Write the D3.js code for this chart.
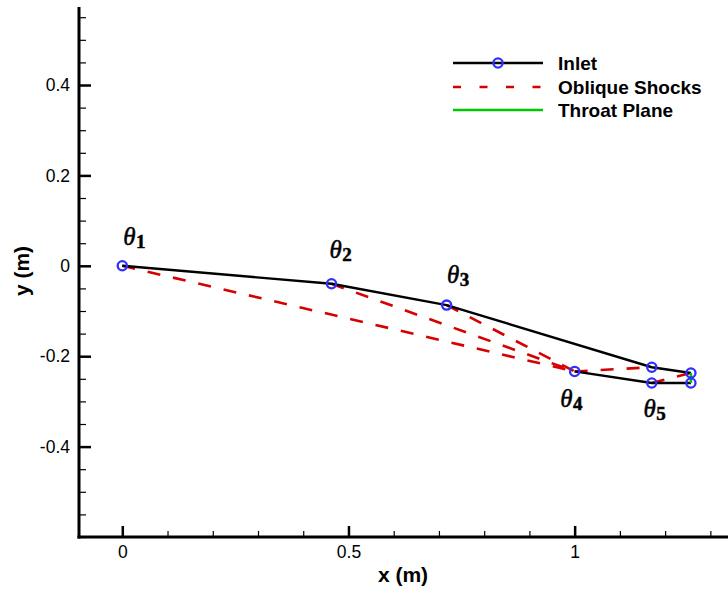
<!DOCTYPE html>
<html>
<head>
<meta charset="utf-8">
<script src="https://cdn.jsdelivr.net/npm/d3@7"></script>
<style>
  html, body { margin: 0; padding: 0; background: #fff; }
  svg { display: block; }
</style>
</head>
<body>
<script>
// ---- data ----
const upperX = [0, 0.4625, 0.717, 1.1705, 1.257];
const upperY = [0, -0.0398, -0.0869, -0.2244, -0.2372];
const cowlX = [1.0, 1.1705, 1.257];
const cowlY = [-0.2337, -0.2593, -0.2593];
const shockX1 = [0, 0.4625, 0.717, 1.0, 1.1705];
const shockY1 = [0, -0.0398, -0.0869, -0.2337, -0.2593];
const shockX2 = [1.0, 1.0, 1.0, 1.1705, 1.257];
const shockY2 = [-0.2337, -0.2337, -0.2337, -0.2244, -0.2372];
const throatX = [1.257, 1.257];
const throatY = [-0.2372, -0.2593];
const labelText = ["1", "2", "3", "4", "5"];
const labelX = [0.002, 0.458, 0.718, 0.968, 1.152];
const labelY = [0.047, 0.018, -0.038, -0.312, -0.334];
const yTicks = [-0.4, -0.2, 0, 0.2, 0.4];
const xTicks = [0, 0.5, 1];
const seriesNames = ["Inlet", "Oblique Shocks", "Throat Plane"];

// ---- layout ----
const W = 728, H = 590;
const plot = { left: 79, right: 728, top: 7, bottom: 537 };
const x = d3.scaleLinear().domain([-0.0957, 1.339]).range([plot.left, plot.right]);
const y = d3.scaleLinear().domain([-0.6, 0.5726]).range([plot.bottom, plot.top]);

const BLUE = "#2f2fff", RED = "#d60000", GREEN = "#00c800";
const fmt = d => String(+d.toFixed(2));

const svg = d3.select("body").append("svg").attr("width", W).attr("height", H)
  .style("font-family", "'Liberation Sans', Arial, sans-serif");

// axes
const yMinor = d3.range(-0.6, 0.5501, 0.05).map(v => +v.toFixed(2)).filter(v => !yTicks.includes(v));
const xMinor = d3.range(0, 1.3001, 0.1).map(v => +v.toFixed(2)).filter(v => !xTicks.includes(v));

const yAxis = d3.axisRight(y).tickValues(yTicks).tickSize(12).tickFormat(fmt);
const gy = svg.append("g").attr("transform", `translate(${plot.left},0)`).call(yAxis);
gy.select(".domain").remove();
gy.selectAll(".tick line").attr("stroke", "#000").attr("stroke-width", 2.5);
gy.selectAll(".tick text").attr("x", -9).attr("text-anchor", "end").attr("font-size", 17.5).attr("fill", "#000");
const gyMinor = svg.append("g").attr("transform", `translate(${plot.left},0)`)
  .call(d3.axisRight(y).tickValues(yMinor).tickSize(7).tickFormat(""));
gyMinor.select(".domain").remove();
gyMinor.selectAll(".tick line").attr("stroke", "#000").attr("stroke-width", 1.2);

const xAxis = d3.axisTop(x).tickValues(xTicks).tickSize(11).tickFormat(fmt);
const gx = svg.append("g").attr("transform", `translate(0,${plot.bottom})`).call(xAxis);
gx.select(".domain").remove();
gx.selectAll(".tick line").attr("stroke", "#000").attr("stroke-width", 2.5);
gx.selectAll(".tick text").attr("y", 21).attr("dy", 0).attr("font-size", 17.5).attr("fill", "#000");
const gxMinor = svg.append("g").attr("transform", `translate(0,${plot.bottom})`)
  .call(d3.axisTop(x).tickValues(xMinor).tickSize(6).tickFormat(""));
gxMinor.select(".domain").remove();
gxMinor.selectAll(".tick line").attr("stroke", "#000").attr("stroke-width", 1.2);

svg.append("line").attr("x1", plot.left).attr("x2", plot.left).attr("y1", plot.top).attr("y2", plot.bottom + 1.5)
  .attr("stroke", "#000").attr("stroke-width", 3);
svg.append("line").attr("x1", plot.left - 1.5).attr("x2", plot.right).attr("y1", plot.bottom).attr("y2", plot.bottom)
  .attr("stroke", "#000").attr("stroke-width", 3);

// axis titles
svg.append("text").attr("x", 403).attr("y", 582).attr("text-anchor", "middle")
  .attr("font-size", 21).attr("font-weight", "bold").text("x (m)");
svg.append("text").attr("transform", "translate(29,271) rotate(-90)").attr("text-anchor", "middle")
  .attr("font-size", 21).attr("font-weight", "bold").text("y (m)");

const line = d3.line().x(d => x(d[0])).y(d => y(d[1]));

// shocks
const shocks = shockX1.map((v, i) => [[shockX1[i], shockY1[i]], [shockX2[i], shockY2[i]]]);
svg.append("g").selectAll("path").data(shocks).join("path")
  .attr("d", line).attr("fill", "none").attr("stroke", RED).attr("stroke-width", 2.6)
  .attr("stroke-dasharray", "13,13");

// inlet
const upper = upperX.map((v, i) => [v, upperY[i]]);
const cowl = cowlX.map((v, i) => [v, cowlY[i]]);
[upper, cowl].forEach(pts => {
  svg.append("path").attr("d", line(pts)).attr("fill", "none").attr("stroke", "#000").attr("stroke-width", 2.4)
    .attr("stroke-linejoin", "round");
});

// throat
svg.append("path").attr("d", line(throatX.map((v, i) => [v, throatY[i]])))
  .attr("fill", "none").attr("stroke", GREEN).attr("stroke-width", 2.6);

// markers
svg.append("g").selectAll("circle").data(upper.concat(cowl)).join("circle")
  .attr("cx", d => x(d[0])).attr("cy", d => y(d[1])).attr("r", 4.6)
  .attr("fill", "none").attr("stroke", BLUE).attr("stroke-width", 2.3);

// theta labels
const lab = svg.append("g").selectAll("text").data(labelText).join("text")
  .attr("x", (d, i) => x(labelX[i])).attr("y", (d, i) => y(labelY[i]))
  .attr("font-family", "'Liberation Serif', 'DejaVu Serif', serif")
  .attr("fill", "#000").attr("stroke", "#000").attr("stroke-width", 0.5);
lab.append("tspan").attr("font-style", "italic").attr("font-size", 25).text("θ");
lab.append("tspan").attr("font-weight", "bold").attr("font-size", 19).attr("dy", 3.5).attr("dx", 0.5).text(d => d);

// legend
const legend = svg.append("g");
const rows = [63, 87, 110];
const lx1 = 453, lx2 = 543, tx = 558;
legend.append("line").attr("x1", lx1).attr("x2", lx2).attr("y1", rows[0]).attr("y2", rows[0])
  .attr("stroke", "#000").attr("stroke-width", 2.4);
legend.append("circle").attr("cx", (lx1 + lx2) / 2).attr("cy", rows[0]).attr("r", 4.6)
  .attr("fill", "none").attr("stroke", BLUE).attr("stroke-width", 2.3);
legend.append("line").attr("x1", lx1).attr("x2", lx2 + 1).attr("y1", rows[1]).attr("y2", rows[1])
  .attr("stroke", RED).attr("stroke-width", 2.6).attr("stroke-dasharray", "8,18.5");
legend.append("line").attr("x1", lx1).attr("x2", lx2).attr("y1", rows[2]).attr("y2", rows[2])
  .attr("stroke", GREEN).attr("stroke-width", 2.6);
legend.selectAll("text.lt").data(seriesNames).join("text").attr("class", "lt")
  .attr("x", tx).attr("y", (d, i) => rows[i] + 6.5)
  .attr("font-size", 19).attr("font-weight", "bold").text(d => d);
</script>
</body>
</html>
